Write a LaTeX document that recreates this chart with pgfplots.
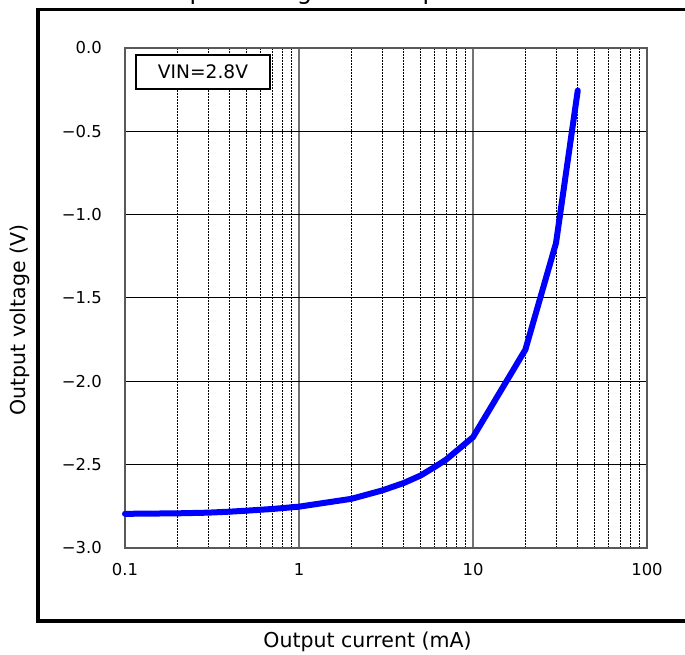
\documentclass[border=0pt]{standalone}
\usepackage{pgfplots}
\pgfplotsset{compat=1.18}
\usepackage{fontspec}
\setmainfont{DejaVu Sans}
\begin{document}
\begin{tikzpicture}[x=1pt,y=1pt]
\useasboundingbox (-125,-107) rectangle (560,548);
\begin{axis}[at={(0,0)}, anchor=south west, scale only axis,
  width=522pt, height=500pt,
  xmode=log, xmin=0.1, xmax=100, ymin=-3, ymax=0,
  xtick={0.1,1,10,100}, xticklabels={0.1,1,10,100},
  ytick={-3,-2.5,-2,-1.5,-1,-0.5,0},
  yticklabels={−3.0,−2.5,−2.0,−1.5,−1.0,−0.5,0.0},
  minor xtick={0.2,0.3,0.4,0.5,0.6,0.7,0.8,0.9,2,3,4,5,6,7,8,9,20,30,40,50,60,70,80,90},
  grid=both,
  major x grid style={draw=black!55, line width=1.2pt},
  minor x grid style={draw=black, line width=0.7pt, dash pattern=on 2pt off 1pt},
  major y grid style={draw=black, line width=1pt},
  major tick length=0pt, minor tick length=0pt,
  axis line style={draw=black!65, line width=1.3pt},
  tick label style={font=\fontsize{16.4}{18}\selectfont},
  xticklabel style={anchor=north, inner sep=0pt, yshift=-15pt},
  yticklabel style={anchor=east, inner sep=0pt, xshift=-23pt},
  clip=false,
]
\addplot[color={rgb,255:red,0;green,0;blue,255}, line width=6pt, line join=round, line cap=round] coordinates {
(0.1,-2.795) (0.2,-2.792) (0.3,-2.788) (0.4,-2.782) (0.5,-2.776) (0.7,-2.766) (1,-2.752)
(2,-2.705) (3,-2.655) (4,-2.61) (5,-2.565) (6,-2.515) (7,-2.47) (10,-2.335)
(20,-1.81) (30,-1.17) (40,-0.255)
};
\end{axis}
\draw[line width=1.3pt, fill=white] (11,459) rectangle (145,493);
\node[font=\fontsize{18.6}{22}\selectfont] at (78,476) {VIN=2.8V};
\draw[line width=3.3pt] (720,538.5) -- (-87,538.5) -- (-87,-73) -- (720,-73);
\node[font=\fontsize{24}{28}\selectfont, anchor=base west, inner sep=0pt] at (21,548) {Output voltage vs. Output current};
\node[font=\fontsize{20.5}{24}\selectfont, anchor=base] at (242.5,-100) {Output current (mA)};
\node[font=\fontsize{20.5}{24}\selectfont, rotate=90, anchor=center] at (-105,228) {Output voltage (V)};
\end{tikzpicture}
\end{document}
